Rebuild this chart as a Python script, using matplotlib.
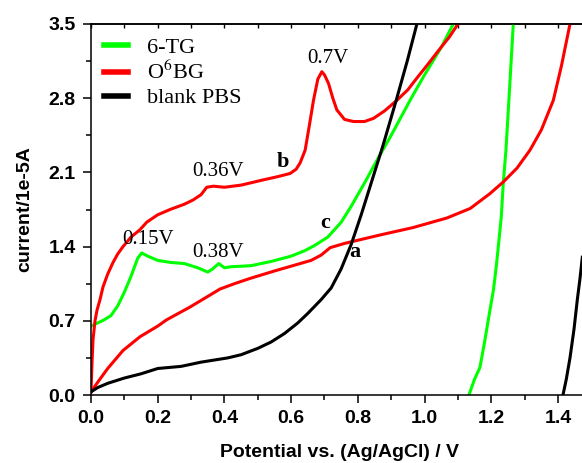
import matplotlib
matplotlib.use("Agg")
import matplotlib.pyplot as plt
from matplotlib.ticker import MultipleLocator

plt.rcParams["mathtext.fontset"] = "stix"

# ---- data ----
# 6-TG, forward branch
tg_x = [0, 0.02, 0.04, 0.06, 0.08, 0.1, 0.12, 0.14, 0.152, 0.17, 0.2, 0.24, 0.28, 0.32,
        0.35, 0.365, 0.383, 0.4, 0.42, 0.48, 0.54, 0.6, 0.64, 0.67, 0.71, 0.75, 0.78,
        0.82, 0.86, 0.9, 0.96, 1.0, 1.05, 1.086]
tg_y = [0.65, 0.68, 0.71, 0.75, 0.84, 0.97, 1.12, 1.29, 1.34, 1.31, 1.27, 1.25, 1.24, 1.2,
        1.16, 1.19, 1.24, 1.2, 1.21, 1.22, 1.26, 1.31, 1.36, 1.41, 1.49, 1.63, 1.78,
        2.0, 2.23, 2.45, 2.8, 3.02, 3.28, 3.5]
# 6-TG, return branch
tg2_x = [1.133, 1.15, 1.166, 1.18, 1.196, 1.207, 1.217, 1.23, 1.236, 1.244, 1.255, 1.266]
tg2_y = [0.0, 0.15, 0.26, 0.5, 0.8, 1.0, 1.27, 1.68, 2.0, 2.31, 2.9, 3.5]

# O6BG, upper branch (b)
bg_x = [0, 0.003, 0.006, 0.012, 0.018, 0.027, 0.036, 0.05, 0.066, 0.08, 0.096, 0.12,
        0.147, 0.167, 0.2, 0.237, 0.28, 0.306, 0.33, 0.347, 0.367, 0.4, 0.45, 0.517,
        0.56, 0.597, 0.615, 0.627, 0.642, 0.655, 0.667, 0.68, 0.692, 0.7, 0.712, 0.725,
        0.737, 0.76, 0.787, 0.82, 0.847, 0.88, 0.917, 0.95, 0.977, 1.01, 1.047, 1.075, 1.1]
bg_y = [0.03, 0.3, 0.52, 0.7, 0.8, 0.9, 1.02, 1.14, 1.25, 1.33, 1.4, 1.49,
        1.56, 1.63, 1.7, 1.75, 1.8, 1.84, 1.89, 1.96, 1.97, 1.96, 1.98, 2.03,
        2.06, 2.09, 2.13, 2.19, 2.31, 2.55, 2.78, 2.98, 3.05, 3.02, 2.94, 2.8,
        2.69, 2.6, 2.58, 2.58, 2.61, 2.68, 2.78, 2.88, 2.99, 3.12, 3.27, 3.38, 3.5]
# O6BG, lower branch
bg2_x = [0, 0.02, 0.05, 0.096, 0.147, 0.2, 0.227, 0.297, 0.387, 0.43, 0.477, 0.55,
         0.627, 0.66, 0.69, 0.717, 0.76, 0.8, 0.867, 0.966, 1.067, 1.137, 1.196,
         1.236, 1.277, 1.316, 1.35, 1.386, 1.41, 1.436]
bg2_y = [0.03, 0.12, 0.25, 0.42, 0.55, 0.65, 0.71, 0.83, 1.0, 1.05, 1.1, 1.17,
         1.24, 1.27, 1.32, 1.39, 1.43, 1.46, 1.51, 1.58, 1.67, 1.76, 1.9,
         2.01, 2.14, 2.31, 2.5, 2.78, 3.1, 3.5]

# blank PBS, forward branch
pbs_x = [0, 0.02, 0.05, 0.1, 0.15, 0.2, 0.27, 0.33, 0.37, 0.41, 0.45, 0.5, 0.54, 0.58,
         0.62, 0.65, 0.69, 0.72, 0.75, 0.78, 0.81, 0.84, 0.875, 0.915, 0.948, 0.977]
pbs_y = [0.03, 0.07, 0.11, 0.16, 0.2, 0.25, 0.27, 0.31, 0.33, 0.35, 0.38, 0.44, 0.5, 0.58,
         0.68, 0.77, 0.9, 1.01, 1.19, 1.42, 1.7, 2.0, 2.35, 2.78, 3.15, 3.5]
# blank PBS, return branch
pbs2_x = [1.415, 1.425, 1.436, 1.448, 1.458, 1.466, 1.473]
pbs2_y = [0.0, 0.15, 0.35, 0.62, 0.9, 1.1, 1.3]

series_names = ["6-TG", "O$^6$BG", "blank PBS"]
x_ticks = [0.0, 0.2, 0.4, 0.6, 0.8, 1.0, 1.2, 1.4]
y_ticks = [0.0, 0.7, 1.4, 2.1, 2.8, 3.5]

peak_labels = ["0.15V", "0.38V", "0.36V", "0.7V"]
peak_pos = [(0.17, 1.465), (0.38, 1.345), (0.38, 2.11), (0.71, 3.17)]
curve_labels = ["a", "b", "c"]
curve_pos = [(0.79, 1.35), (0.574, 2.2), (0.702, 1.62)]

GREEN = "#00FF00"
RED = "#FF0000"
BLACK = "#000000"

fig = plt.figure(figsize=(5.82, 4.63), dpi=100)
ax = fig.add_axes([91 / 582, 1 - 395 / 463, 1 - 91 / 582 + 0.01, (395 - 24) / 463])

lw = 2.2
l1, = ax.plot(tg_x, tg_y, color=GREEN, lw=lw, label=series_names[0])
ax.plot(tg2_x, tg2_y, color=GREEN, lw=lw)
l2, = ax.plot(bg_x, bg_y, color=RED, lw=lw, label=series_names[1])
ax.plot(bg2_x, bg2_y, color=RED, lw=lw)
l3, = ax.plot(pbs_x, pbs_y, color=BLACK, lw=lw, label=series_names[2])
ax.plot(pbs2_x, pbs2_y, color=BLACK, lw=lw)

ax.set_xlim(0, 1.472 + 0.01 * (1.472 / (1 - 91 / 582)))
ax.set_ylim(0, 3.5)

ax.set_xticks(x_ticks)
ax.set_yticks(y_ticks)
ax.set_xticklabels([f"{v:.1f}" for v in x_ticks])
ax.set_yticklabels([f"{v:.1f}" for v in y_ticks])
ax.xaxis.set_minor_locator(MultipleLocator(0.1))
ax.yaxis.set_minor_locator(MultipleLocator(0.35))

for lab in ax.get_xticklabels() + ax.get_yticklabels():
    lab.set_fontfamily("Liberation Sans")
    lab.set_fontweight("bold")
    lab.set_fontsize(14)

ax.tick_params(which="major", direction="out", length=5.5, width=1.1, pad=5.5)
ax.tick_params(which="minor", direction="out", length=3.5, width=1.1)
ax.tick_params(top=False, right=False)

top = ax.secondary_xaxis("top")
top.set_xticks([i * 0.1 for i in range(15)])
top.tick_params(direction="in", length=3, width=1.0, labeltop=False)
top.spines["top"].set_linewidth(1.1)

for s in ["left", "bottom", "top"]:
    ax.spines[s].set_linewidth(1.1)
ax.spines["right"].set_visible(False)

ax.set_xlabel("Potential vs. (Ag/AgCl) / V", fontfamily="Liberation Sans",
              fontweight="bold", fontsize=14, labelpad=12)
ax.set_ylabel("current/1e-5A", fontfamily="Liberation Sans",
              fontweight="bold", fontsize=14, labelpad=11)

leg = ax.legend(handles=[l1, l2, l3], loc="upper left", frameon=False,
                prop=dict(family="Liberation Serif", size=16),
                handlelength=1.05, handletextpad=0.85, labelspacing=0.15,
                borderaxespad=0.3, borderpad=0.3, bbox_to_anchor=(0.0, 1.0))
for ln in leg.get_lines():
    ln.set_linewidth(4)

for t, (px, py) in zip(peak_labels, peak_pos):
    ax.text(px, py, t, family="Liberation Serif", fontsize=15, ha="center", va="center")
for t, (px, py) in zip(curve_labels, curve_pos):
    ax.text(px, py, t, family="Liberation Serif", fontweight="bold", fontsize=16,
            ha="center", va="center")

fig.savefig("out.png", dpi=100)
